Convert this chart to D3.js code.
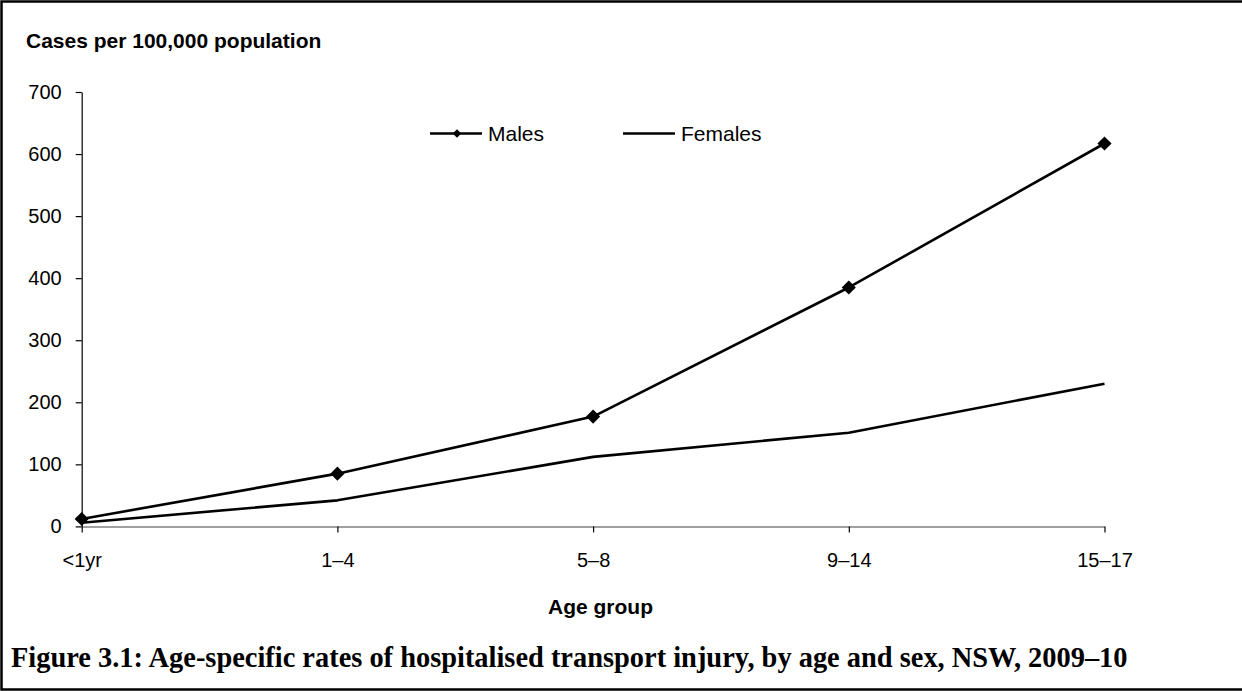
<!DOCTYPE html>
<html>
<head>
<meta charset="utf-8">
<script src="https://cdn.jsdelivr.net/npm/d3@7"></script>
<style>
  html, body { margin: 0; padding: 0; background: #fff; }
  svg { display: block; }
</style>
</head>
<body>
<svg id="chart" width="1242" height="691"></svg>
<script>
const categories = ["<1yr", "1–4", "5–8", "9–14", "15–17"];
const males = [12, 85, 177, 385, 617];
const females = [6, 42, 112, 151, 230];
const yTicks = [0, 100, 200, 300, 400, 500, 600, 700];
const seriesNames = ["Males", "Females"];
const yTitle = "Cases per 100,000 population";
const xTitle = "Age group";
const caption = "Figure 3.1: Age-specific rates of hospitalised transport injury, by age and sex, NSW, 2009–10";

const svg = d3.select("#chart");
const sans = "'Liberation Sans', Arial, sans-serif";

// frame
svg.append("path")
  .attr("d", "M1242,1.5 H1.5 V689.5 H1242")
  .attr("fill", "none").attr("stroke", "#000").attr("stroke-width", 2.5);

const x = d3.scalePoint().domain(categories).range([81.7, 1104.5]);
const y = d3.scaleLinear().domain([0, 700]).range([526.4, 92]);

// x axis
const xAxis = svg.append("g")
  .attr("transform", `translate(0,${y(0)})`)
  .call(d3.axisBottom(x).tickSize(6).tickSizeOuter(0).tickPadding(20));
xAxis.select(".domain").attr("stroke", "#808080").attr("stroke-width", 1.5);
xAxis.selectAll(".tick line").attr("stroke", "#000").attr("stroke-width", 1.2);
xAxis.selectAll("text").attr("font-family", sans).attr("font-size", 20).attr("fill", "#000");

// y axis
const yAxis = svg.append("g")
  .attr("transform", `translate(${x(categories[0])},0)`)
  .call(d3.axisLeft(y).tickValues(yTicks).tickSize(6).tickSizeOuter(0).tickPadding(14));
yAxis.select(".domain").attr("stroke", "#000").attr("stroke-width", 1.2);
yAxis.selectAll(".tick line").attr("stroke", "#000").attr("stroke-width", 1.2);
yAxis.selectAll("text").attr("font-family", sans).attr("font-size", 20).attr("fill", "#000");

// redraw x domain over y ticks (gray baseline)
// lines
const line = d3.line().x((d, i) => x(categories[i])).y(d => y(d));
svg.append("path").datum(females)
  .attr("d", line).attr("fill", "none").attr("stroke", "#000").attr("stroke-width", 2.6)
  .attr("stroke-linejoin", "round");
svg.append("path").datum(males)
  .attr("d", line).attr("fill", "none").attr("stroke", "#000").attr("stroke-width", 2.6)
  .attr("stroke-linejoin", "round");

const diamond = d3.symbol().type(d3.symbolSquare).size(100);
svg.selectAll(".mk").data(males).enter().append("path")
  .attr("class", "mk")
  .attr("d", diamond)
  .attr("transform", (d, i) => `translate(${x(categories[i])},${y(d)}) rotate(45)`)
  .attr("fill", "#000");

// legend
const leg = svg.append("g");
leg.append("line").attr("x1", 430).attr("x2", 482).attr("y1", 133.5).attr("y2", 133.5)
  .attr("stroke", "#000").attr("stroke-width", 2.6);
leg.append("path").attr("d", d3.symbol().type(d3.symbolSquare).size(36))
  .attr("transform", "translate(457,133.5) rotate(45)").attr("fill", "#000");
leg.append("text").attr("x", 488).attr("y", 141).text(seriesNames[0])
  .attr("font-family", sans).attr("font-size", 21);
leg.append("line").attr("x1", 623).attr("x2", 675).attr("y1", 133.5).attr("y2", 133.5)
  .attr("stroke", "#000").attr("stroke-width", 2.6);
leg.append("text").attr("x", 681).attr("y", 141).text(seriesNames[1])
  .attr("font-family", sans).attr("font-size", 21);

// titles
svg.append("text").attr("x", 26).attr("y", 48).text(yTitle)
  .attr("font-family", sans).attr("font-size", 21).attr("font-weight", "bold");
svg.append("text").attr("x", 600.5).attr("y", 614).attr("text-anchor", "middle").text(xTitle)
  .attr("font-family", sans).attr("font-size", 21).attr("font-weight", "bold");

// caption
const cap = svg.append("text").attr("x", 11).attr("y", 667).text(caption)
  .attr("font-family", "'Liberation Serif', 'Times New Roman', serif")
  .attr("font-weight", "bold").attr("font-size", 24);
const w = cap.node().getComputedTextLength();
cap.attr("font-size", 24 * 1117 / w);
</script>
</body>
</html>
